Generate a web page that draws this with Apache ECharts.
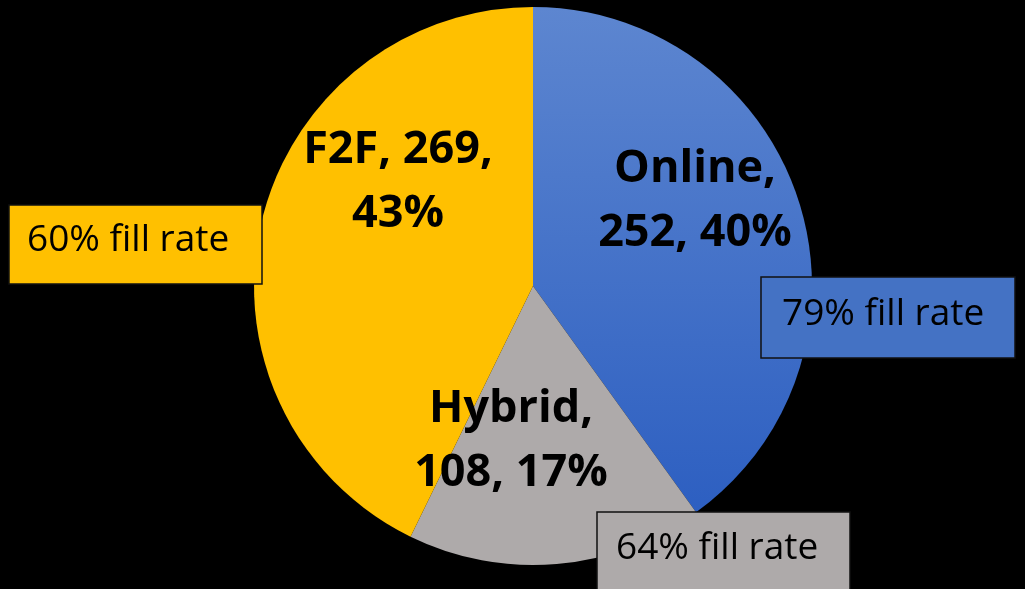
<!DOCTYPE html>
<html>
<head>
<meta charset="utf-8">
<script src="https://cdn.jsdelivr.net/npm/echarts@6/dist/echarts.min.js"></script>
<style>
  html, body { margin: 0; padding: 0; background: #000; }
  #chart { width: 1025px; height: 589px; }
</style>
</head>
<body>
<div id="chart"></div>
<script>
// delivery mode, number of courses, fill rate
var categories = ['Online', 'Hybrid', 'F2F'];
var counts = [252, 108, 269];
var fillRates = ['79%', '64%', '60%'];

var colors = [
  new echarts.graphic.LinearGradient(0, 0, 0, 1, [
    {offset: 0, color: '#5d86d0'},
    {offset: 1, color: '#2d5fc1'}
  ]),
  '#aeaaaa',
  '#ffc000'
];
var boxColors = ['#4472c4', '#aeaaaa', '#ffc000'];

// where the labels and callout boxes sit
var labelPos = [[695, 201], [511, 441], [398, 182]];
var boxes = [
  {x: 761, y: 277, w: 254, h: 81, tx: 21, ty: 37},
  {x: 597, y: 512, w: 253, h: 82, tx: 19, ty: 36},
  {x: 9, y: 205, w: 253, h: 79, tx: 18, ty: 35}
];

var total = 0;
for (var i = 0; i < counts.length; i++) total += counts[i];

var data = [];
for (var i = 0; i < categories.length; i++) {
  data.push({
    name: categories[i],
    value: counts[i],
    itemStyle: {color: colors[i]}
  });
}

var graphics = [];
for (var i = 0; i < boxes.length; i++) {
  var b = boxes[i];
  graphics.push({
    type: 'rect',
    zlevel: 1,
    z: 100,
    shape: {x: b.x, y: b.y, width: b.w, height: b.h},
    style: {fill: boxColors[i], stroke: '#111', lineWidth: 1.5}
  });
  graphics.push({
    type: 'text',
    zlevel: 1,
    z: 101,
    x: b.x + b.tx,
    y: b.y + b.ty,
    style: {
      text: fillRates[i] + ' fill rate',
      fill: '#000',
      font: '37px "Open Sans"',
      verticalAlign: 'middle',
      align: 'left'
    }
  });
}

var chart = echarts.init(document.getElementById('chart'));
chart.setOption({
  backgroundColor: '#000',
  animation: false,
  graphic: graphics,
  series: [{
    type: 'pie',
    center: [533, 286],
    radius: 279,
    startAngle: 90,
    clockwise: true,
    data: data,
    itemStyle: {borderWidth: 0},
    label: {
      show: true,
      position: 'inside',
      color: '#000',
      fontFamily: 'Open Sans',
      fontWeight: 'bold',
      fontSize: 45,
      lineHeight: 64,
      align: 'center',
      formatter: function(p) {
        var pct = Math.round(p.value / total * 100);
        if (p.name === 'F2F') return p.name + ', ' + p.value + ',\n' + pct + '%';
        return p.name + ',\n' + p.value + ', ' + pct + '%';
      }
    },
    labelLine: {show: false},
    emphasis: {disabled: true}
  }]
});
chart.setOption({
  series: [{
    labelLayout: function(params) {
      var pos = labelPos[params.dataIndex];
      return {x: pos[0], y: pos[1], align: 'center', verticalAlign: 'middle'};
    }
  }]
});
</script>
</body>
</html>
